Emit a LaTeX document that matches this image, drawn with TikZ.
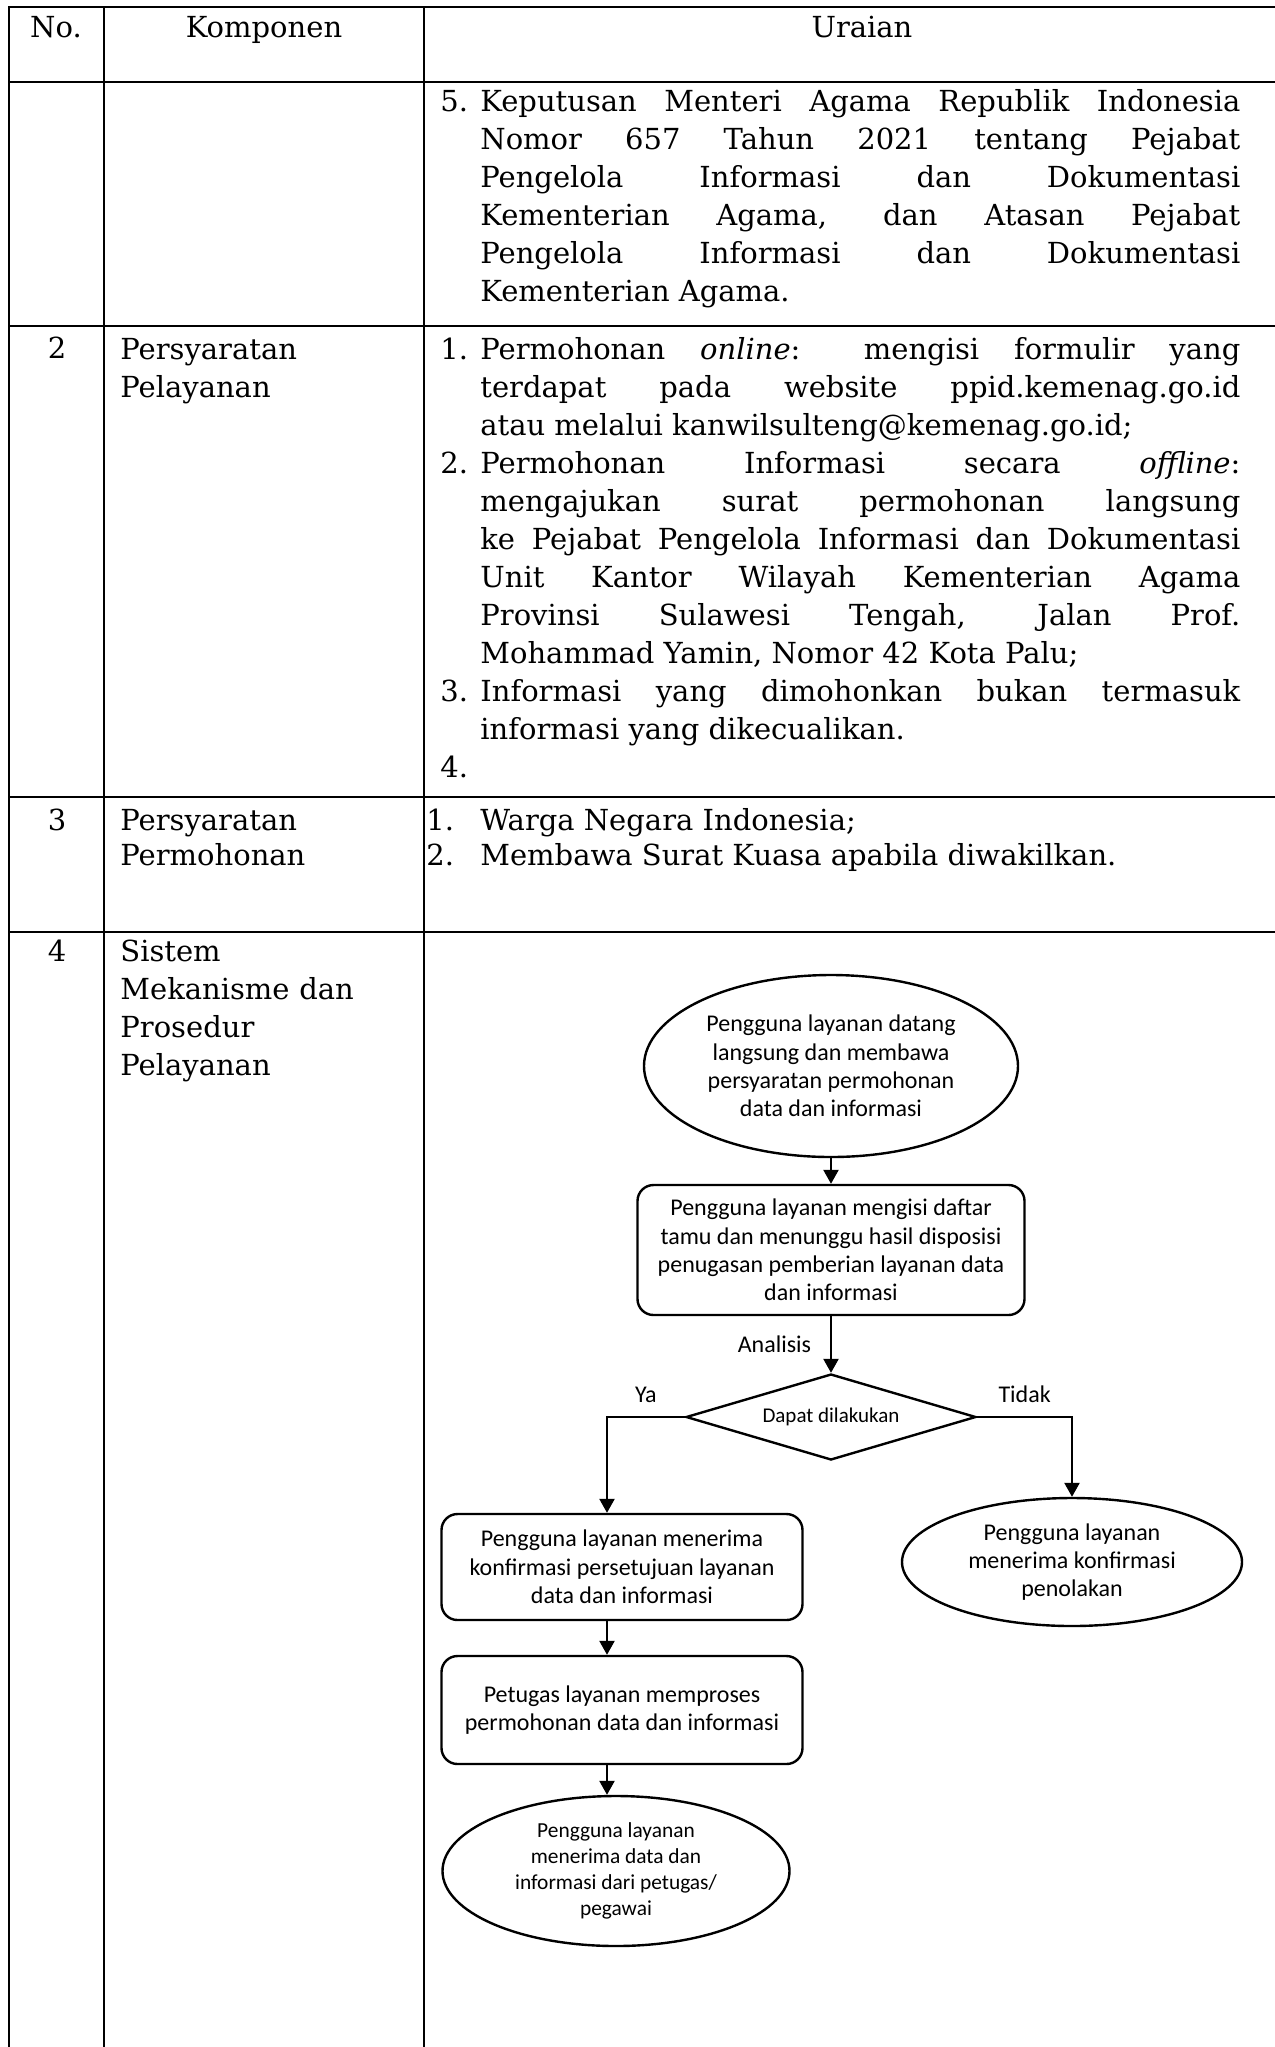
\documentclass[tikz,border=0pt]{standalone}
\usepackage{fontspec}
\setmainfont{DejaVu Serif}
\newfontfamily\flowfont{Carlito}
\usetikzlibrary{arrows.meta, shapes.geometric}
\tikzset{>={Triangle[length = 7pt, width = 7.5pt]}}
\setlength{\parindent}{0pt}
\hyphenpenalty = 10000
\exhyphenpenalty = 10000
\tolerance = 9999
\newcommand{\tabfont}{\fontsize{14.5}{19}\selectfont}
\newcommand{\butir}[2][20pt]{\hangindent = #1\hangafter = 1\noindent\strut\makebox[#1][l]{#2}}
\tikzstyle{tableLine} = [line width = 1, line cap = rect]
\tikzstyle{heading} = [anchor = base, inner sep = 0, font = \tabfont]
\tikzstyle{komponenCell} = [anchor = north west, inner sep = 0, text width = 150pt, align = left, font = \tabfont]
\tikzstyle{uraianCell} = [anchor = north west, inner sep = 0, text width = 400pt, align = justify, font = \tabfont]
\tikzstyle{terminal} = [ellipse, align = center, inner sep = 0, draw = black, line width = 1.2, font = \flowfont\fontsize{12}{14.2}\selectfont]
\tikzstyle{process} = [rectangle, rounded corners = 8pt, align = center, inner sep = 0, draw = black, line width = 1.2, minimum width = 180.5pt, font = \flowfont\fontsize{12}{14.2}\selectfont]
\tikzstyle{decision} = [diamond, aspect = 3.4, align = center, inner sep = 0, draw = black, line width = 1.2, minimum width = 145pt, minimum height = 43pt, font = \flowfont\fontsize{10.5}{12.5}\selectfont]
\tikzstyle{flowLabel} = [font = \flowfont\fontsize{12}{14.2}\selectfont]

\begin{document}
\begin{tikzpicture}[x = 0.5pt, y = -0.5pt, node distance = 90pt]
    \fill [white] (0,0) rectangle (1275,2047);
    \useasboundingbox (0,0) rectangle (1275,2047);

    % table grid
    \draw [tableLine] (9,7) -- (1275,7);
    \draw [tableLine] (9,82) -- (1275,82);
    \draw [tableLine] (9,326) -- (1275,326);
    \draw [tableLine] (9,797) -- (1275,797);
    \draw [tableLine] (9,932) -- (1275,932);
    \draw [tableLine] (9,7) -- (9,2047);
    \draw [tableLine] (104,7) -- (104,2047);
    \draw [tableLine] (424,7) -- (424,2047);

    % header
    \node (noHead) [heading] at (56,37) {No.};
    \node (komponenHead) [heading] at (264,37) {Komponen};
    \node (uraianHead) [heading] at (862,37) {Uraian};

    % row 1 (continued)
    \node (uraianSatu) [uraianCell] at (440,84.4) {\butir{5.}Keputusan Menteri Agama Republik Indonesia\linebreak
        Nomor 657 Tahun 2021 tentang Pejabat\linebreak
        Pengelola Informasi dan Dokumentasi\linebreak
        Kementerian Agama, dan Atasan Pejabat\linebreak
        Pengelola Informasi dan Dokumentasi\linebreak
        Kementerian Agama.\par};

    % row 2
    \node (noDua) [heading] at (57,358) {2};
    \node (komponenDua) [komponenCell] at (120,332) {\strut Persyaratan\\Pelayanan};
    \node (uraianDua) [uraianCell] at (440,332) {\butir{1.}Permohonan \textit{online}: mengisi formulir yang\linebreak
        terdapat pada website ppid.kemenag.go.id\linebreak
        atau melalui kanwilsulteng@kemenag.go.id;\par
        \butir{2.}Permohonan Informasi secara \textit{offline}:\linebreak
        mengajukan surat permohonan langsung\linebreak
        ke Pejabat Pengelola Informasi dan Dokumentasi\linebreak
        Unit Kantor Wilayah Kementerian Agama\linebreak
        Provinsi Sulawesi Tengah, Jalan Prof.\linebreak
        Mohammad Yamin, Nomor 42 Kota Palu;\par
        \butir{3.}Informasi yang dimohonkan bukan termasuk\linebreak
        informasi yang dikecualikan.\par
        \butir{4.}\par};

    % row 3
    \node (noTiga) [heading] at (57,830) {3};
    \node (komponenTiga) [komponenCell, font = \fontsize{14.5}{17.5}\selectfont] at (120,806) {\strut Persyaratan\\Permohonan};
    \node (uraianTiga) [uraianCell, text width = 407pt, font = \fontsize{14.5}{17.5}\selectfont] at (426,806) {\butir[27pt]{1.}Warga Negara Indonesia;\par
        \butir[27pt]{2.}Membawa Surat Kuasa apabila diwakilkan.\par};

    % row 4
    \node (noEmpat) [heading] at (57,961) {4};
    \node (komponenEmpat) [komponenCell] at (120,934.4) {\strut Sistem\\Mekanisme dan\\Prosedur\\Pelayanan};

    % flowchart
    \node (penggunaDatang) [terminal, minimum width = 187pt, minimum height = 91pt] at (831,1066) {Pengguna layanan datang\\langsung dan membawa\\persyaratan permohonan\\data dan informasi};
    \node (isiDaftar) [process, below of = penggunaDatang, node distance = 92pt, minimum width = 193.5pt, minimum height = 65pt] {Pengguna layanan mengisi daftar\\tamu dan menunggu hasil disposisi\\penugasan pemberian layanan data\\dan informasi};
    \node (dapatDilakukan) [decision, below of = isiDaftar, node distance = 83.5pt] {Dapat dilakukan};
    \node (terimaKonfirmasi) [process, minimum height = 53pt] at (622,1567) {Pengguna layanan menerima\\konfirmasi persetujuan layanan\\data dan informasi};
    \node (prosesPermohonan) [process, below of = terimaKonfirmasi, node distance = 71.5pt, minimum height = 54pt] {Petugas layanan memproses\\permohonan data dan informasi};
    \node (terimaData) [terminal, below of = prosesPermohonan, node distance = 80.5pt, xshift = -3pt, minimum width = 173.5pt, minimum height = 75pt, font = \flowfont\fontsize{10.7}{13}\selectfont] {Pengguna layanan\\menerima data dan\\informasi dari petugas/\\pegawai};
    \node (terimaPenolakan) [terminal, minimum width = 170pt, minimum height = 64pt] at (1072,1562) {Pengguna layanan\\menerima konfirmasi\\penolakan};

    \draw [->, line width = 1.2] (penggunaDatang) -- (isiDaftar);
    \draw [->, line width = 1.2] (isiDaftar) -- node [left, xshift = -6pt, flowLabel] (labelAnalisis) {Analisis} (dapatDilakukan);
    \draw [->, line width = 1.2] (dapatDilakukan.west) -| node [pos = 0.25, above, yshift = 3pt, flowLabel] (labelYa) {Ya} ([xshift = -7.5pt]terimaKonfirmasi.north);
    \draw [->, line width = 1.2] (dapatDilakukan.east) -| node [pos = 0.25, above, yshift = 3pt, flowLabel] (labelTidak) {Tidak} (terimaPenolakan.north);
    \draw [->, line width = 1.2] ([xshift = -7.5pt]terimaKonfirmasi.south) -- ([xshift = -7.5pt]prosesPermohonan.north);
    \draw [->, line width = 1.2] ([xshift = -7.5pt]prosesPermohonan.south) -- ([xshift = -4.5pt]terimaData.north);
\end{tikzpicture}
\end{document}
